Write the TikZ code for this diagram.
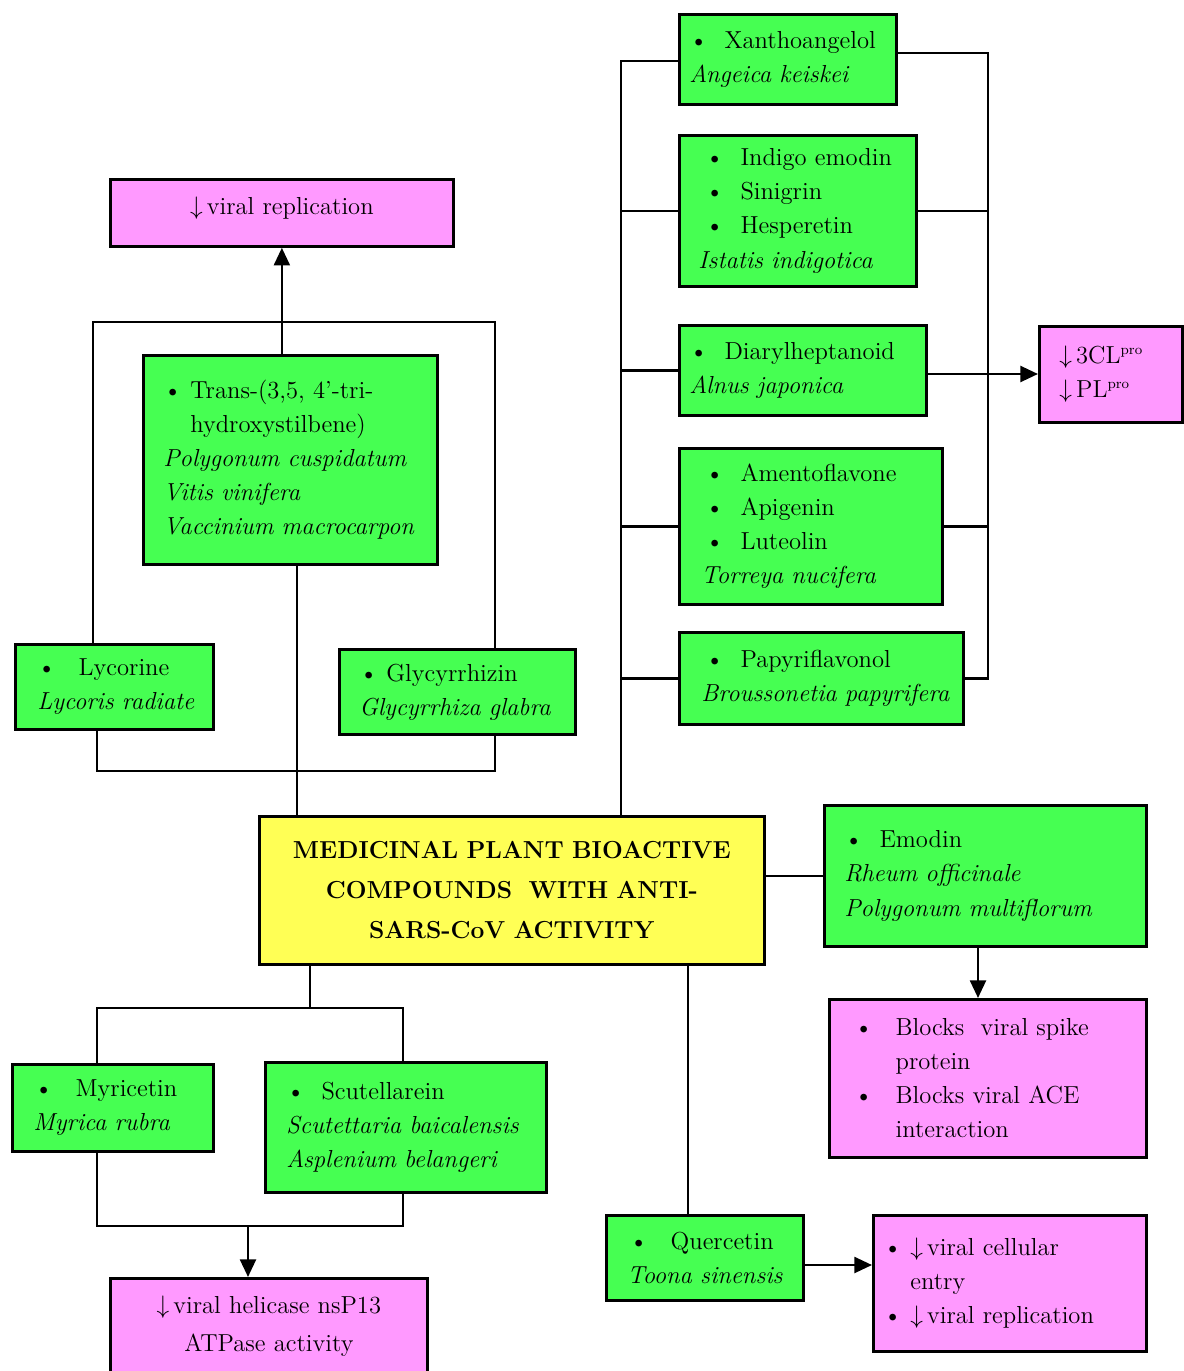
\documentclass[tikz,border=0pt]{standalone}
\usepackage{amsmath}
\usepackage{tikz}
\usetikzlibrary{arrows.meta}
\usetikzlibrary{positioning}
\definecolor{leafgreen}{HTML}{46FF52}
\definecolor{effectpink}{HTML}{FF99FF}
\definecolor{titleyellow}{HTML}{FFFF55}
\tikzset{boxsize/.style n args={4}{minimum width=#1cm, minimum height=#2cm,
    inner xsep=#3cm, text width=#4cm}}
\newcommand{\prosup}{\textsuperscript{\fontsize{8}{8}\selectfont pro}}

\begin{document}
\begin{tikzpicture}[x=0.02cm, y=-0.02cm,
    box/.style={draw, line width=1.6pt, anchor=north west, align=left,
      inner ysep=0pt, font=\fontsize{14}{19.4}\selectfont},
    plant/.style={box, fill=leafgreen},
    effect/.style={box, fill=effectpink},
    link/.style={line width=1.5pt},
    arr/.style={link, -{Triangle[length=10pt, width=9pt]}}]
  \useasboundingbox (0,0) rectangle (1183,1371);

  \node[effect, align=center, boxsize={6.86}{1.34}{0.2}{6.46}, text depth=0.3cm] (vrep) at (109,178)
    {$\downarrow$\,viral replication};
  \node[plant, boxsize={5.88}{4.18}{0.4}{5.08}] (trans) at (142,354)
    {\textbullet\ Trans-(3,5, 4'-tri-\\\hphantom{\textbullet\ }hydroxystilbene)\\
     \textit{Polygonum cuspidatum}\\\textit{Vitis vinifera}\\\textit{Vaccinium macrocarpon}};
  \node[plant, boxsize={3.96}{1.7}{0.16}{3.64}] (lyc) at (14,643)
    {\hspace*{0.28cm}\textbullet\hspace{0.45cm}Lycorine\\\hspace*{0.28cm}\textit{Lycoris radiate}};
  \node[plant, boxsize={4.72}{1.7}{0.4}{3.92}] (gly) at (338,648)
    {\textbullet\ Glycyrrhizin\\\textit{Glycyrrhiza glabra}};

  \node[plant, boxsize={4.34}{1.8}{0.2}{3.94}] (xan) at (678,13)
    {\textbullet\ \ Xanthoangelol\\\textit{Angeica keiskei}};
  \node[plant, boxsize={4.74}{3.02}{0.38}{3.98}] (ind) at (678,134)
    {\hspace*{0.14cm}\textbullet\ \ Indigo emodin\\\hspace*{0.14cm}\textbullet\ \ Sinigrin\\
     \hspace*{0.14cm}\textbullet\ \ Hesperetin\\\textit{Istatis indigotica}};
  \node[plant, boxsize={4.94}{1.8}{0.2}{4.54}] (dia) at (678,324)
    {\textbullet\ \ Diarylheptanoid\\\textit{Alnus japonica}};
  \node[plant, boxsize={5.26}{3.12}{0.44}{4.38}] (ame) at (678,447)
    {\hspace*{0.08cm}\textbullet\ \ Amentoflavone\\\hspace*{0.08cm}\textbullet\ \ Apigenin\\
     \hspace*{0.08cm}\textbullet\ \ Luteolin\\\textit{Torreya nucifera}};
  \node[plant, boxsize={5.68}{1.84}{0.12}{5.44}] (pap) at (678,631)
    {\hspace*{0.4cm}\textbullet\ \ Papyriflavonol\\\hspace*{0.32cm}\textit{Broussonetia papyrifera}};
  \node[effect, boxsize={2.86}{1.92}{0.4}{2.06}] (cl) at (1038,325)
    {$\downarrow$\,3CL\prosup\\$\downarrow$\,PL\prosup};

  \node[box, fill=titleyellow, align=center, boxsize={10.1}{2.96}{0.2}{9.7},
    font=\fontsize{14}{22.7}\selectfont\bfseries] (main) at (258,815)
    {MEDICINAL PLANT BIOACTIVE\\COMPOUNDS\ \ WITH ANTI-\\SARS-CoV ACTIVITY};

  \node[plant, boxsize={6.44}{2.82}{0.4}{5.64}] (emo) at (823,804)
    {\textbullet\ \ Emodin\\\textit{Rheum officinale}\\\textit{Polygonum multiflorum}};
  \node[effect, boxsize={6.34}{3.16}{0.2}{5.94}] (blk) at (828,998)
    {\hspace*{0.3cm}\textbullet\hspace{0.45cm}Blocks\ \ viral spike\\
     \hspace*{0.3cm}\hphantom{\textbullet}\hspace{0.45cm}protein\\
     \hspace*{0.3cm}\textbullet\hspace{0.45cm}Blocks viral ACE\\
     \hspace*{0.3cm}\hphantom{\textbullet}\hspace{0.45cm}interaction};
  \node[plant, boxsize={3.94}{1.7}{0.12}{3.7}] (que) at (605,1214)
    {\hspace*{0.34cm}\textbullet\hspace{0.45cm}Quercetin\\\hspace*{0.3cm}\textit{Toona sinensis}};
  \node[effect, boxsize={5.46}{2.72}{0.2}{5.06}] (ent) at (872,1214)
    {\textbullet\ $\downarrow$\,viral cellular\\\hphantom{\textbullet\ }entry\\
     \textbullet\ $\downarrow$\,viral replication};

  \node[plant, boxsize={4.02}{1.74}{0.14}{3.74}] (myr) at (11,1063)
    {\hspace*{0.3cm}\textbullet\hspace{0.45cm}Myricetin\\\hspace*{0.28cm}\textit{Myrica rubra}};
  \node[plant, boxsize={5.62}{2.6}{0.42}{4.78}] (scu) at (264,1061)
    {\textbullet\ \ Scutellarein\\\textit{Scutettaria baicalensis}\\\textit{Asplenium belangeri}};
  \node[effect, align=center, boxsize={6.34}{1.9}{0.2}{5.94},
    font=\fontsize{14}{21.5}\selectfont] (hel) at (109,1277)
    {$\downarrow$\,viral helicase nsP13\\ATPase activity};

  % left group
  \coordinate (tl) at (93,322);
  \coordinate (tr) at (495,322);
  \coordinate (bl) at (97,771);
  \coordinate (br) at (495,771);
  \coordinate (bm) at (297,771);
  \draw[arr] (trans.north -| vrep.south) -- (vrep.south);
  \draw[link] (lyc.north -| tl) -- (tl) -- (tr) -- (gly.north -| tr);
  \draw[link] (lyc.south -| bl) -- (bl) -- (br) -- (gly.south -| br);
  \draw[link] (trans.south -| bm) -- (main.north -| bm);

  % right group
  \coordinate (ls) at (621,61);
  \coordinate (rs) at (988,53);
  \coordinate (da) at (925,374);
  \draw[link] (main.north -| ls) -- (ls) -- (xan.west |- ls);
  \foreach \n in {ind,dia,ame,pap}
    \draw[link] (\n.west) -- (\n.west -| ls);
  \draw[link] (xan.east |- rs) -- (rs) -- (rs |- pap.east) -- (pap.east);
  \foreach \n in {ind,ame}
    \draw[link] (\n.east) -- (\n.east -| rs);
  \draw[arr] (da) -- (da -| cl.west);

  \coordinate (ea) at (978,945);
  \draw[link] (main.east |- emo.west) -- (emo.west);
  \draw[arr] (ea) -- (ea |- blk.north);

  \coordinate (qs) at (688,963);
  \coordinate (qa) at (802,1265);
  \draw[link] (main.south -| qs) -- (que.north -| qs);
  \draw[arr] (qa) -- (qa -| ent.west);

  % lower left group
  \coordinate (ul) at (97,1008);
  \coordinate (ur) at (403,1008);
  \coordinate (um) at (310,1008);
  \coordinate (dl) at (97,1226);
  \coordinate (dr) at (403,1226);
  \coordinate (dm) at (248,1226);
  \draw[link] (main.south -| um) -- (um);
  \draw[link] (myr.north -| ul) -- (ul) -- (ur) -- (scu.north -| ur);
  \draw[link] (myr.south -| dl) -- (dl) -- (dr) -- (scu.south -| dr);
  \draw[arr] (dm) -- (hel.north -| dm);
\end{tikzpicture}
\end{document}
